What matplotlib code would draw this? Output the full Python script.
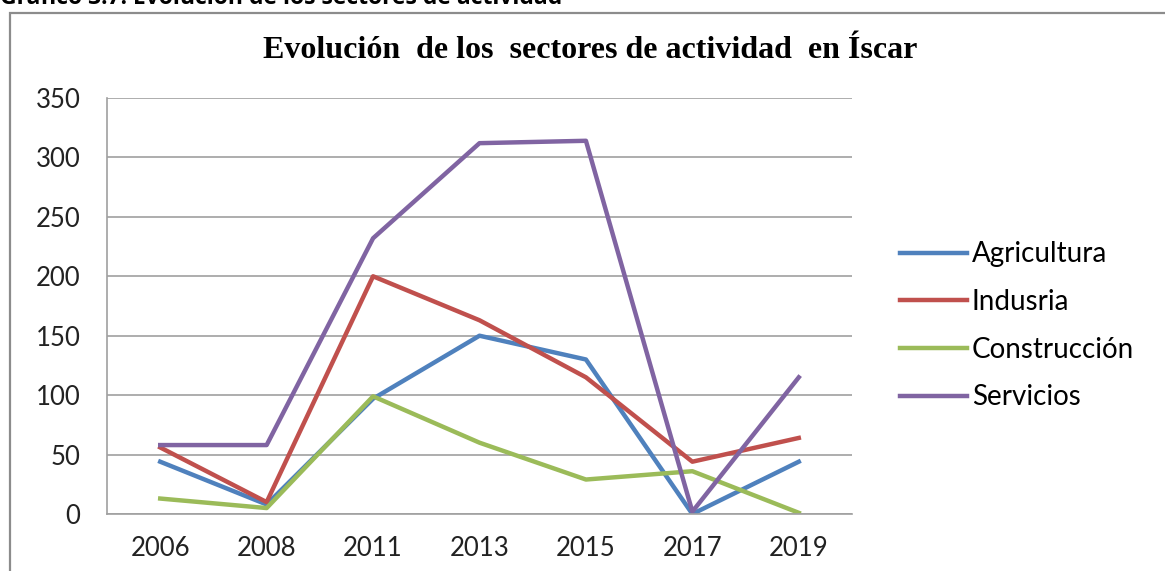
import matplotlib.pyplot as plt
from matplotlib.patches import Rectangle

years = ['2006', '2008', '2011', '2013', '2015', '2017', '2019']
agricultura = [44, 8, 97, 150, 130, 0, 44]
industria = [56, 10, 200, 163, 115, 44, 64]
construccion = [13, 5, 99, 60, 29, 36, 1]
servicios = [58, 58, 232, 312, 314, 2, 115]

series = [
    ('Agricultura', agricultura, '#4F81BD'),
    ('Indusria', industria, '#C0504D'),
    ('Construcción', construccion, '#9BBB59'),
    ('Servicios', servicios, '#8064A2'),
]

fig = plt.figure(figsize=(11.65, 5.71), dpi=100)

# caption above the chart frame (cut off at the top in the original)
fig.text(0.0, 1 - 4 / 571, 'Gráfico 3.7: Evolución de los sectores de actividad',
         fontsize=16.5, fontweight='bold', family='Open Sans', va='baseline', ha='left')

# chart frame
frame = Rectangle((10 / 1165, -0.05), 1.1, 1 - 13 / 571 + 0.05,
                  transform=fig.transFigure, fill=False, edgecolor='#8c8c8c', lw=1.6)
fig.add_artist(frame)

ax = fig.add_axes([107 / 1165, 1 - 514 / 571, (852 - 107) / 1165, (514 - 98) / 571])
x = range(len(years))
for name, vals, col in series:
    ax.plot(x, vals, color=col, lw=3.2, label=name)

ax.set_xlim(-0.5, len(years) - 0.5)
ax.set_ylim(0, 350)
ax.set_yticks(range(0, 351, 50))
ax.set_xticks(list(x))
ax.set_xticklabels(years)
ax.grid(axis='y', color='#a0a0a0', lw=1.2)
ax.set_axisbelow(True)
for s in ['top', 'right']:
    ax.spines[s].set_visible(False)
for s in ['left', 'bottom']:
    ax.spines[s].set_color('#a0a0a0')
    ax.spines[s].set_linewidth(1.2)
ax.tick_params(axis='both', length=0, labelsize=18.5, labelcolor='#222222')
ax.tick_params(axis='y', pad=19)
ax.tick_params(axis='x', pad=16)
for lab in ax.get_xticklabels() + ax.get_yticklabels():
    lab.set_family('Lato')

fig.text(590 / 1165, 1 - 50 / 571, 'Evolución  de los  sectores de actividad  en Íscar',
         fontsize=23, fontweight='bold', family='Liberation Serif', ha='center', va='center')

ax.legend(loc='center left', bbox_to_anchor=(1 + (900 - 852) / 745, 0.452), frameon=False,
          prop={'family': 'Lato', 'size': 20}, handlelength=2.4, handletextpad=0.18,
          labelspacing=0.78, borderpad=0, borderaxespad=0)

fig.savefig('out.png', dpi=100)
